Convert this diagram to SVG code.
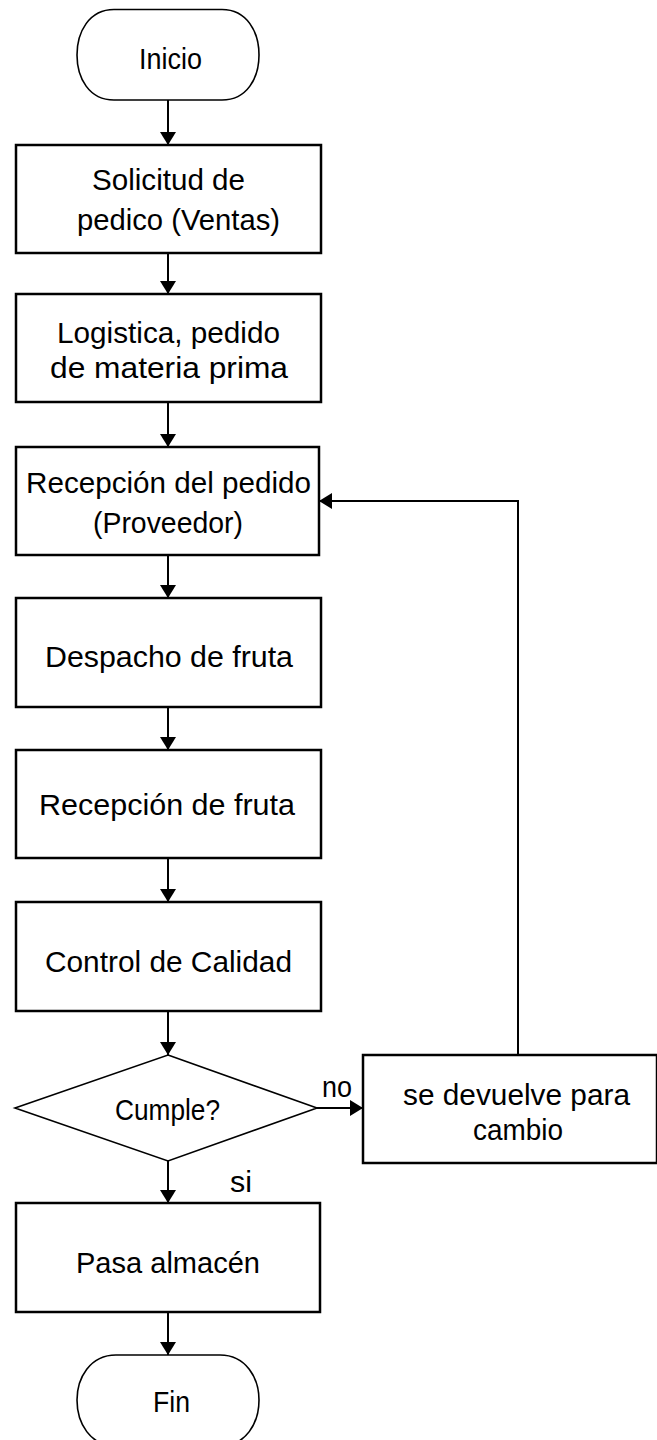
<svg xmlns="http://www.w3.org/2000/svg" width="657" height="1440" viewBox="0 0 657 1440">
<style>
.box{fill:#fff;stroke:#000;stroke-width:2.5}
.term{fill:#fff;stroke:#000;stroke-width:1.6}
.dia{fill:#fff;stroke:#000;stroke-width:1.6}
.con{fill:none;stroke:#000;stroke-width:2}
text{font-family:"Liberation Sans",Arial,sans-serif;font-size:30px;fill:#000}
</style>
<defs>
<marker id="ah" markerUnits="userSpaceOnUse" viewBox="0 0 13 16" refX="13" refY="8" markerWidth="13" markerHeight="16" orient="auto">
<path d="M0,0 L13,8 L0,16 Z" fill="#000"/>
</marker>
</defs>
<g id="connectors">
<line class="con" x1="168" y1="100" x2="168" y2="145" marker-end="url(#ah)"/>
<line class="con" x1="168" y1="253" x2="168" y2="294" marker-end="url(#ah)"/>
<line class="con" x1="168" y1="402" x2="168" y2="447" marker-end="url(#ah)"/>
<line class="con" x1="168" y1="555" x2="168" y2="598" marker-end="url(#ah)"/>
<line class="con" x1="168" y1="707" x2="168" y2="750" marker-end="url(#ah)"/>
<line class="con" x1="168" y1="858" x2="168" y2="902" marker-end="url(#ah)"/>
<line class="con" x1="168" y1="1011" x2="168" y2="1055" marker-end="url(#ah)"/>
<line class="con" x1="168" y1="1161" x2="168" y2="1203" marker-end="url(#ah)"/>
<line class="con" x1="168" y1="1312" x2="168" y2="1355" marker-end="url(#ah)"/>
<line class="con" x1="317" y1="1108" x2="363" y2="1108" marker-end="url(#ah)"/>
<polyline class="con" points="518,1055 518,501 319,501" marker-end="url(#ah)"/>
<text x="322" y="1097" textLength="30" lengthAdjust="spacingAndGlyphs">no</text>
<text x="230" y="1192" textLength="22" lengthAdjust="spacingAndGlyphs">si</text>
</g>
<g id="inicio">
<path class="term" d="M114,9.5 H222 C247,9.5 259,32 259,55 C259,78 247,100 222,100 H114 C89,100 77,78 77,55 C77,32 89,9.5 114,9.5 Z"/>
<text x="139" y="69" textLength="63" lengthAdjust="spacingAndGlyphs">Inicio</text>
</g>
<g id="solicitud">
<rect class="box" x="16" y="145" width="305" height="108"/>
<text x="92" y="190" textLength="153" lengthAdjust="spacingAndGlyphs">Solicitud de</text>
<text x="77" y="230" textLength="203" lengthAdjust="spacingAndGlyphs">pedico (Ventas)</text>
</g>
<g id="logistica">
<rect class="box" x="16" y="294" width="305" height="108"/>
<text x="57" y="343" textLength="223" lengthAdjust="spacingAndGlyphs">Logistica, pedido</text>
<text x="50" y="378" textLength="238" lengthAdjust="spacingAndGlyphs">de materia prima</text>
</g>
<g id="recepcion-pedido">
<rect class="box" x="16" y="447" width="303" height="108"/>
<text x="26" y="493" textLength="285" lengthAdjust="spacingAndGlyphs">Recepción del pedido</text>
<text x="93" y="533" textLength="150" lengthAdjust="spacingAndGlyphs">(Proveedor)</text>
</g>
<g id="despacho">
<rect class="box" x="16" y="598" width="305" height="109"/>
<text x="45" y="667" textLength="248" lengthAdjust="spacingAndGlyphs">Despacho de fruta</text>
</g>
<g id="recepcion-fruta">
<rect class="box" x="16" y="750" width="305" height="108"/>
<text x="39" y="815" textLength="256" lengthAdjust="spacingAndGlyphs">Recepción de fruta</text>
</g>
<g id="control">
<rect class="box" x="16" y="902" width="305" height="109"/>
<text x="45" y="972" textLength="247" lengthAdjust="spacingAndGlyphs">Control de Calidad</text>
</g>
<g id="cumple">
<polygon class="dia" points="168,1055 317,1108 168,1161 15,1108"/>
<text x="115" y="1120" textLength="105" lengthAdjust="spacingAndGlyphs">Cumple?</text>
</g>
<g id="devuelve">
<rect class="box" x="363" y="1055" width="294" height="108"/>
<text x="403" y="1105" textLength="227" lengthAdjust="spacingAndGlyphs">se devuelve para</text>
<text x="473" y="1140" textLength="90" lengthAdjust="spacingAndGlyphs">cambio</text>
</g>
<g id="almacen">
<rect class="box" x="16" y="1203" width="304" height="109"/>
<text x="76" y="1273" textLength="184" lengthAdjust="spacingAndGlyphs">Pasa almacén</text>
</g>
<g id="fin">
<path class="term" d="M116,1355 H220 C246,1355 259,1378 259,1400 C259,1423 246,1446 220,1446 H116 C90,1446 77,1423 77,1400 C77,1378 90,1355 116,1355 Z"/>
<text x="153" y="1412" textLength="37" lengthAdjust="spacingAndGlyphs">Fin</text>
</g>
</svg>
